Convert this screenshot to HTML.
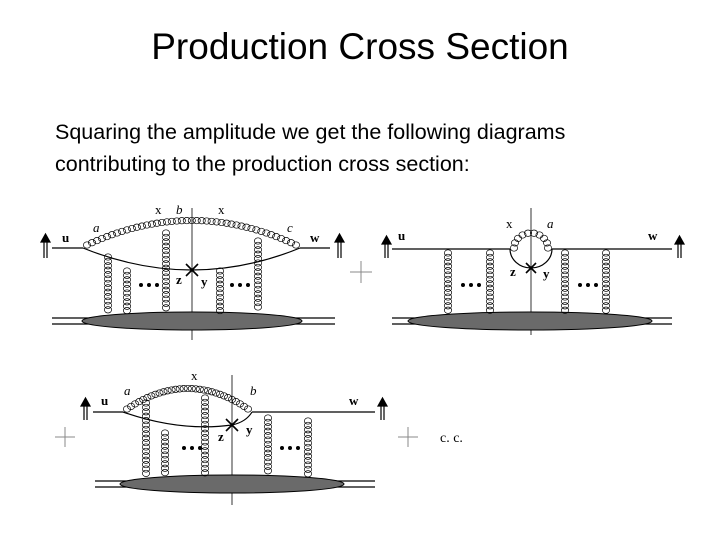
<!DOCTYPE html>
<html><head><meta charset="utf-8"><style>
body{margin:0;width:720px;height:540px;background:#fff;overflow:hidden;font-family:"Liberation Sans",sans-serif}
h1{position:absolute;top:26px;left:0;width:720px;text-align:center;margin:0;font-weight:normal;font-size:37px;color:#000}
.t{position:absolute;left:55px;font-size:21.5px;color:#000}
svg{position:absolute;left:0;top:0}
svg text{font-family:"Liberation Serif",serif;font-size:13px}
</style></head><body>
<h1>Production Cross Section</h1>
<div class="t" style="top:120px">Squaring the amplitude we get the following diagrams</div>
<div class="t" style="top:152px">contributing to the production cross section:</div>
<svg id="s" width="720" height="540" viewBox="0 0 720 540">
<g fill="none" stroke="#000" stroke-width="1.2">
<!-- diagram 1 -->
<line x1="52" y1="248" x2="83" y2="248"/><line x1="300" y1="248" x2="330" y2="248"/>
<path d="M83 248 Q192 292 300 248"/>
<line x1="192" y1="208" x2="192" y2="340" stroke-width="0.8"/>
<line x1="52" y1="318" x2="335" y2="318"/><line x1="52" y1="324" x2="335" y2="324"/>
<!-- diagram 2 -->
<line x1="392" y1="249" x2="510" y2="249"/><line x1="552" y1="249" x2="672" y2="249"/>
<path d="M510 249 A21 19 0 0 0 552 249"/>
<line x1="531" y1="208" x2="531" y2="335" stroke-width="0.8"/>
<line x1="392" y1="318" x2="672" y2="318"/><line x1="392" y1="324" x2="672" y2="324"/>
<!-- diagram 3 -->
<line x1="93" y1="412" x2="123" y2="412"/><line x1="252" y1="412" x2="375" y2="412"/>
<path d="M123 412 Q180 432 232 425 Q246 422 252 412"/>
<line x1="232" y1="375" x2="232" y2="505" stroke-width="0.8"/>
<line x1="95" y1="481" x2="375" y2="481"/><line x1="95" y1="487" x2="375" y2="487"/>
<!-- pluses -->
<g stroke="#888" stroke-width="1"><line x1="350" y1="272" x2="372" y2="272"/><line x1="361" y1="261" x2="361" y2="283"/>
<line x1="55" y1="437" x2="75" y2="437"/><line x1="65" y1="427" x2="65" y2="447"/>
<line x1="398" y1="437" x2="418" y2="437"/><line x1="408" y1="427" x2="408" y2="447"/></g>
</g>
<g fill="#6a6a6a" stroke="#000" stroke-width="1">
<ellipse cx="192" cy="321" rx="110" ry="9"/>
<ellipse cx="530" cy="321" rx="122" ry="9"/>
<ellipse cx="232" cy="484" rx="112" ry="9"/>
</g>
<g id="coils" fill="none" stroke="#000" stroke-width="0.7"></g>
<g stroke="#000" stroke-width="1.6">
<line x1="186" y1="264" x2="198" y2="276"/><line x1="198" y1="264" x2="186" y2="276"/>
<line x1="526" y1="263" x2="536" y2="273"/><line x1="536" y1="263" x2="526" y2="273"/>
<line x1="226" y1="419" x2="238" y2="431"/><line x1="238" y1="419" x2="226" y2="431"/>
</g>
<g fill="#000">
<circle cx="141" cy="285" r="2"/><circle cx="149" cy="285" r="2"/><circle cx="157" cy="285" r="2"/>
<circle cx="232" cy="285" r="2"/><circle cx="240" cy="285" r="2"/><circle cx="248" cy="285" r="2"/>
<circle cx="463" cy="285" r="2"/><circle cx="471" cy="285" r="2"/><circle cx="479" cy="285" r="2"/>
<circle cx="580" cy="285" r="2"/><circle cx="588" cy="285" r="2"/><circle cx="596" cy="285" r="2"/>
<circle cx="184" cy="448" r="2"/><circle cx="192" cy="448" r="2"/><circle cx="200" cy="448" r="2"/>
<circle cx="282" cy="448" r="2"/><circle cx="290" cy="448" r="2"/><circle cx="298" cy="448" r="2"/>
</g>
<!-- arrows -->
<g stroke="#000" stroke-width="1.2" fill="#000">
<line x1="44" y1="240" x2="44" y2="258"/><line x1="47" y1="240" x2="47" y2="258"/><path d="M41 242 L45.5 234 L50 242Z"/>
<line x1="338" y1="240" x2="338" y2="258"/><line x1="341" y1="240" x2="341" y2="258"/><path d="M335 242 L339.5 234 L344 242Z"/>
<line x1="385" y1="242" x2="385" y2="258"/><line x1="388" y1="242" x2="388" y2="258"/><path d="M382 244 L386.5 236 L391 244Z"/>
<line x1="678" y1="242" x2="678" y2="258"/><line x1="681" y1="242" x2="681" y2="258"/><path d="M675 244 L679.5 236 L684 244Z"/>
<line x1="84" y1="404" x2="84" y2="420"/><line x1="87" y1="404" x2="87" y2="420"/><path d="M81 406 L85.5 398 L90 406Z"/>
<line x1="381" y1="404" x2="381" y2="420"/><line x1="384" y1="404" x2="384" y2="420"/><path d="M378 406 L382.5 398 L387 406Z"/>
</g>
<g fill="#000">
<text x="62" y="242" font-weight="bold">u</text><text x="310" y="242" font-weight="bold">w</text>
<text x="155" y="214">x</text><text x="176" y="214" font-style="italic">b</text><text x="218" y="214">x</text>
<text x="93" y="232" font-style="italic">a</text><text x="287" y="232" font-style="italic">c</text>
<text x="176" y="284" font-weight="bold">z</text><text x="201" y="286" font-weight="bold">y</text>
<text x="398" y="240" font-weight="bold">u</text><text x="648" y="240" font-weight="bold">w</text>
<text x="506" y="228">x</text><text x="547" y="228" font-style="italic">a</text>
<text x="510" y="276" font-weight="bold">z</text><text x="543" y="278" font-weight="bold">y</text>
<text x="101" y="405" font-weight="bold">u</text><text x="349" y="405" font-weight="bold">w</text>
<text x="191" y="380">x</text><text x="124" y="395" font-style="italic">a</text><text x="250" y="395" font-style="italic">b</text>
<text x="218" y="441" font-weight="bold">z</text><text x="246" y="434" font-weight="bold">y</text>
<text x="440" y="442" style="font-size:14px">c. c.</text>
</g>
</svg>
<script>
var g=document.getElementById('coils'),ns='http://www.w3.org/2000/svg';
function c(x,y){var e=document.createElementNS(ns,'ellipse');e.setAttribute('cx',x.toFixed(1));e.setAttribute('cy',y.toFixed(1));e.setAttribute('rx',3.6);e.setAttribute('ry',3.2);g.appendChild(e);}
function v(x,y1,y2){for(var y=y1+3;y<=y2-3;y+=4.4)c(x,y);}
function q(x0,y0,cx,cy,x1,y1,n){for(var i=0;i<=n;i++){var t=i/n,a=(1-t)*(1-t),b=2*t*(1-t),d=t*t;c(a*x0+b*cx+d*x1,a*y0+b*cy+d*y1);}}
q(87,245,192,196,296,245,42);
v(108,254,314);v(127,268,314);v(166,230,314);v(220,268,314);v(258,238,314);
for(var i=0;i<=9;i++){var a=Math.PI*i/9;c(531-17*Math.cos(a),248-15*Math.sin(a));}
v(448,250,316);v(490,250,316);v(565,250,316);v(606,250,316);
q(127,409,188,368,248,409,30);
v(146,400,478);v(165,430,478);v(205,395,478);v(268,415,478);v(308,418,478);
</script>
</body></html>
